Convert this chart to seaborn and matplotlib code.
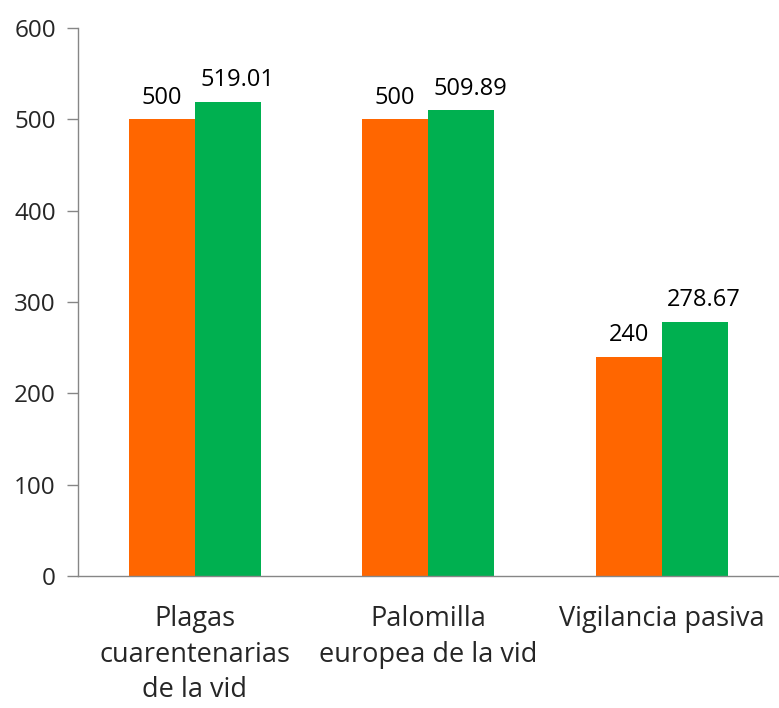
import pandas as pd
import matplotlib
matplotlib.use("Agg")
import matplotlib.pyplot as plt
import seaborn as sns

# Datos del gráfico
categorias = ["Plagas\ncuarentenarias\nde la vid", "Palomilla\neuropea de la vid", "Vigilancia pasiva"]
series = ["Meta", "Alcanzado"]
valores_meta = [500, 500, 240]
valores_alcanzado = [519.01, 509.89, 278.67]
colores = ["#FF6600", "#00B050"]

df = pd.DataFrame({
    "categoria": categorias * 2,
    "serie": [series[0]] * 3 + [series[1]] * 3,
    "valor": valores_meta + valores_alcanzado,
})

sns.set_style("white")
plt.rcParams["font.family"] = ["Open Sans", "DejaVu Sans"]

fig = plt.figure(figsize=(7.79, 7.08), dpi=100)
ax = fig.add_axes([0.1001, 0.1864, 0.899, 0.774])

sns.barplot(data=df, x="categoria", y="valor", hue="serie", palette=colores,
            width=0.565, saturation=1, linewidth=0, legend=False, ax=ax)

for i, cont in enumerate(ax.containers):
    etiquetas = ax.bar_label(cont, fmt="%g", padding=7, fontsize=17, color="#000000")
    if i == 1:
        # las etiquetas de la serie verde van un poco a la derecha
        for et in etiquetas:
            et.xyann = (7, et.xyann[1])

ax.set_ylim(0, 600)
ax.set_yticks(range(0, 601, 100))
ax.set_xlim(-0.5, 2.5)
ax.set_xlabel("")
ax.set_ylabel("")

# marcas del eje x entre categorías
ax.set_xticks([-0.5, 0.5, 1.5, 2.5], minor=True)
ax.tick_params(axis="x", which="major", length=0, labelsize=19.5, pad=21)
ax.tick_params(axis="x", which="minor", length=8, color="#868686", width=1, direction="out")
ax.tick_params(axis="y", length=8, color="#868686", width=1, direction="out", labelsize=17.5, pad=8)
ax.tick_params(left=True, bottom=True)
for etiqueta in ax.get_xticklabels():
    etiqueta.set_linespacing(1.35)

for lado in ["top", "right"]:
    ax.spines[lado].set_visible(False)
for lado in ["left", "bottom"]:
    ax.spines[lado].set_color("#868686")
    ax.spines[lado].set_linewidth(1)

fig.savefig("out.png", dpi=100)
